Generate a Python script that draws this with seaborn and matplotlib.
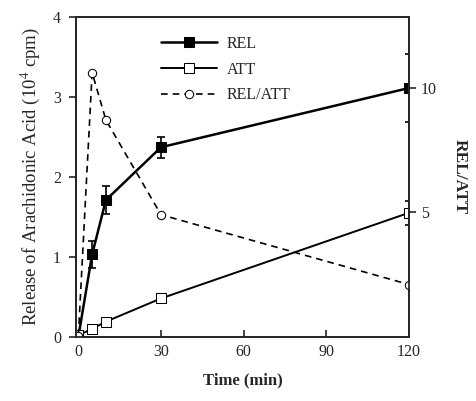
import numpy as np
import pandas as pd
import matplotlib
matplotlib.use('Agg')
import matplotlib.pyplot as plt
import seaborn as sns

# Data
time = [0, 5, 10, 30, 120]
rel = [0.0, 1.03, 1.71, 2.37, 3.11]
rel_err = [0.0, 0.17, 0.17, 0.13, 0.43]
att = [0.02, 0.10, 0.19, 0.48, 1.55]
att_err = [0.0, 0.0, 0.0, 0.0, 0.15]
ratio = [0.05, 10.6, 8.7, 4.9, 2.1]

sns.set_style('ticks')
plt.rcParams['font.family'] = ['Liberation Serif', 'DejaVu Serif']
plt.rcParams['mathtext.fontset'] = 'stix'

df = pd.DataFrame({'time': time, 'REL': rel, 'ATT': att, 'REL/ATT': ratio})

fig = plt.figure(figsize=(4.76, 4.01), dpi=100)
ax = fig.add_axes([0.160, 0.160, 0.699, 0.798])
ax2 = ax.twinx()

# error bars first so markers sit on top
ax.errorbar(time, rel, yerr=rel_err, fmt='none', ecolor='black', elinewidth=1.2, capsize=3, capthick=1.2)
ax.errorbar(time, att, yerr=att_err, fmt='none', ecolor='black', elinewidth=1.2, capsize=3, capthick=1.2)

sns.lineplot(data=df, x='time', y='REL', ax=ax, color='black', linewidth=1.8,
             marker='s', markersize=7, markerfacecolor='black', markeredgecolor='black', label='REL', legend=False)
sns.lineplot(data=df, x='time', y='ATT', ax=ax, color='black', linewidth=1.4,
             marker='s', markersize=7, markerfacecolor='white', markeredgecolor='black', label='ATT', legend=False)
sns.lineplot(data=df, x='time', y='REL/ATT', ax=ax2, color='black', linewidth=1.2, linestyle=(0, (4, 3)),
             marker='o', markersize=6, markerfacecolor='white', markeredgecolor='black', label='REL/ATT', legend=False)

ax.set_xlim(-0.8, 120)
ax.set_ylim(0, 4)
ax2.set_ylim(0, 12.84)
ax.set_xticks([0, 30, 60, 90, 120])
ax.set_yticks([0, 1, 2, 3, 4])
ax2.set_yticks([5, 10])

ax.tick_params(axis='x', direction='in', length=5, width=1.2, labelsize=11.5, pad=5)
ax.tick_params(axis='y', direction='out', length=5, width=1.2, labelsize=11.5, pad=6)
ax2.tick_params(axis='y', direction='out', length=5, width=1.2, labelsize=11.5)

for a in (ax, ax2):
    for s in a.spines.values():
        s.set_linewidth(1.3)
        s.set_visible(True)

ax.set_xlabel('Time (min)', fontsize=12, fontweight='bold', labelpad=9)
ax.set_ylabel('Release of Arachidonic Acid (10$^4$ cpm)', fontsize=13.5, labelpad=8)
ax2.set_ylabel('REL/ATT', fontsize=12.5, fontweight='bold', rotation=-90, labelpad=22)

h1, l1 = ax.get_legend_handles_labels()
h2, l2 = ax2.get_legend_handles_labels()
ax.legend(h1 + h2, l1 + l2, loc='upper center', bbox_to_anchor=(0.45, 0.985), frameon=False,
          fontsize=11.5, handlelength=3.5, handletextpad=0.6, labelspacing=0.6)

fig.savefig('out.png', dpi=100)
